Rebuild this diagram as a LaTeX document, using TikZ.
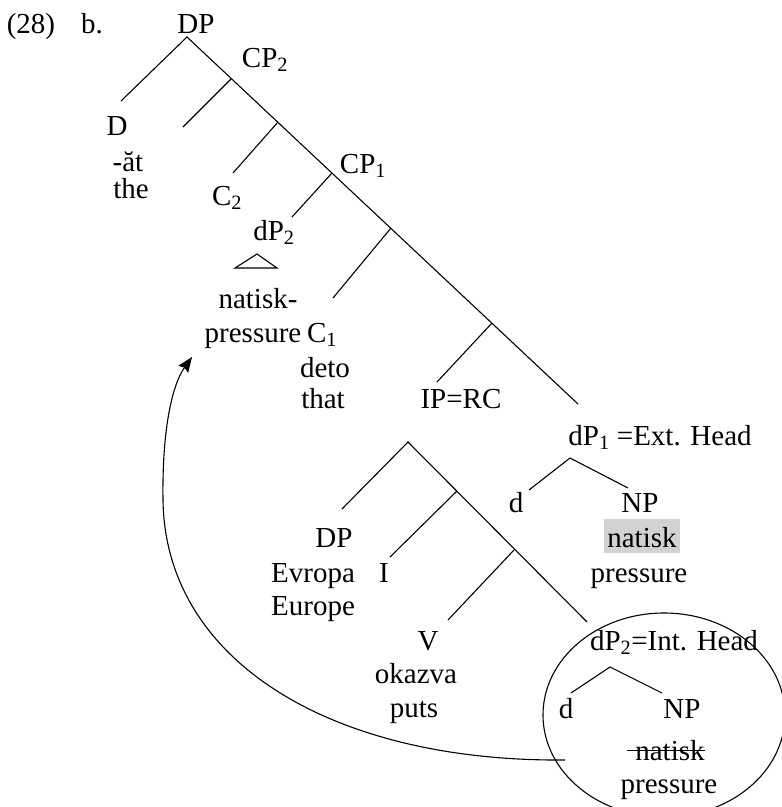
\documentclass[tikz,border=0pt]{standalone}
\usepackage{fontspec}
\setmainfont{Liberation Serif}
\usetikzlibrary{arrows.meta}
\begin{document}
\begin{tikzpicture}[x=1pt,y=-1pt,
  lbl/.style={anchor=base,inner sep=0pt,font=\fontsize{29}{33}\selectfont},
  br/.style={line width=1.1pt},
  hl/.style={fill=gray!35,text height=25pt,text depth=3pt,inner xsep=3pt,inner ysep=3pt,anchor=base,font=\fontsize{29}{33}\selectfont},
]
\useasboundingbox (0,0) rectangle (782,807);
% labels
\node[lbl] (ex) at (31,33) {(28)};
\node[lbl] (b) at (92,33) {b.};
\node[lbl] (dp) at (196,33) {DP};
\node[lbl] (cp2) at (265,67) {CP\textsubscript{2}};
\node[lbl] (D) at (117,135) {D};
\node[lbl] (at) at (128,171) {-ăt};
\node[lbl] (the) at (131,198) {the};
\node[lbl] (c2) at (227,205) {C\textsubscript{2}};
\node[lbl] (cp1) at (363,173) {CP\textsubscript{1}};
\node[lbl] (dp2) at (274,240) {dP\textsubscript{2}};
\node[lbl] (nat1) at (258,308) {natisk-};
\node[lbl] (pr1) at (253,342) {pressure};
\node[lbl] (c1) at (322,342) {C\textsubscript{1}};
\node[lbl] (deto) at (325,377) {deto};
\node[lbl] (that) at (323,408) {that};
\node[lbl] (ip) at (461,408) {IP=RC};
\node[lbl] (dp1) at (660,445) {dP\textsubscript{1} =Ext. Head};
\node[lbl] (d1) at (516,512) {d};
\node[lbl] (np1) at (640,512) {NP};
\node[hl] (nat2) at (642,547) {natisk};
\node[lbl] (pr2) at (639,582) {pressure};
\node[lbl] (dpe) at (334,547) {DP};
\node[lbl] (evr) at (313,582) {Evropa};
\node[lbl] (eur) at (313,615) {Europe};
\node[lbl] (I) at (384,582) {I};
\node[lbl] (V) at (428,650) {V};
\node[lbl] (ok) at (416,683) {okazva};
\node[lbl] (puts) at (414,717) {puts};
\node[lbl] (dp2i) at (674,650) {dP\textsubscript{2}=Int. Head};
\node[lbl] (d2) at (566,718) {d};
\node[lbl] (np2) at (682,718) {NP};
\node[lbl] (nat3) at (670,760) {natisk};
\node[lbl] (pr3) at (669,793) {pressure};
\draw[line width=1pt] ([xshift=-8pt,yshift=10pt]nat3.base west) -- ([yshift=10pt]nat3.base east);
% main spine
\coordinate (dpT) at (187,37);
\coordinate (spE) at (578,404);
\coordinate (dL) at (121,101);
\draw[br] (dL) -- (dpT) -- (spE);
\coordinate (a1) at (231,79); \coordinate (a1e) at (183,127);
\coordinate (a2) at (278,122); \coordinate (a2e) at (233,173);
\coordinate (a3) at (332,173); \coordinate (a3e) at (292,217);
\coordinate (a4) at (391,228); \coordinate (a4e) at (333,298);
\coordinate (a5) at (492,323); \coordinate (a5e) at (437,382);
\draw[br] (a1) -- (a1e);
\draw[br] (a2) -- (a2e);
\draw[br] (a3) -- (a3e);
\draw[br] (a4) -- (a4e);
\draw[br] (a5) -- (a5e);
% triangle
\coordinate (t1) at (257,254); \coordinate (t2) at (235,268); \coordinate (t3) at (277,268);
\draw[br] (t1) -- (t2) -- (t3) -- cycle;
% IP subtree
\coordinate (ipT) at (408,442);
\coordinate (ipL) at (342,509);
\coordinate (ipE) at (587,622);
\draw[br] (ipL) -- (ipT) -- (ipE);
\coordinate (i1) at (457,491); \coordinate (i1e) at (390,557);
\coordinate (i2) at (514,550); \coordinate (i2e) at (448,620);
\draw[br] (i1) -- (i1e);
\draw[br] (i2) -- (i2e);
% ext head
\coordinate (eT) at (570,458); \coordinate (eL) at (529,490); \coordinate (eR) at (628,488);
\draw[br] (eL) -- (eT) -- (eR);
% int head
\coordinate (iT) at (610,667); \coordinate (iL) at (571,693); \coordinate (iR) at (662,693);
\draw[br] (iL) -- (iT) -- (iR);
% ellipse
\draw[br] (664,715) ellipse [x radius=121, y radius=102];
% movement arrow
\coordinate (arS) at (565,760);
\coordinate (arM) at (163,500);
\coordinate (arE) at (192,357);
\draw[br,-{Stealth[length=15pt,width=12pt,inset=2pt]}] (arS) .. controls (330,762) and (165,660) .. (arM) .. controls (162,430) and (172,385) .. (arE);
\end{tikzpicture}
\end{document}
